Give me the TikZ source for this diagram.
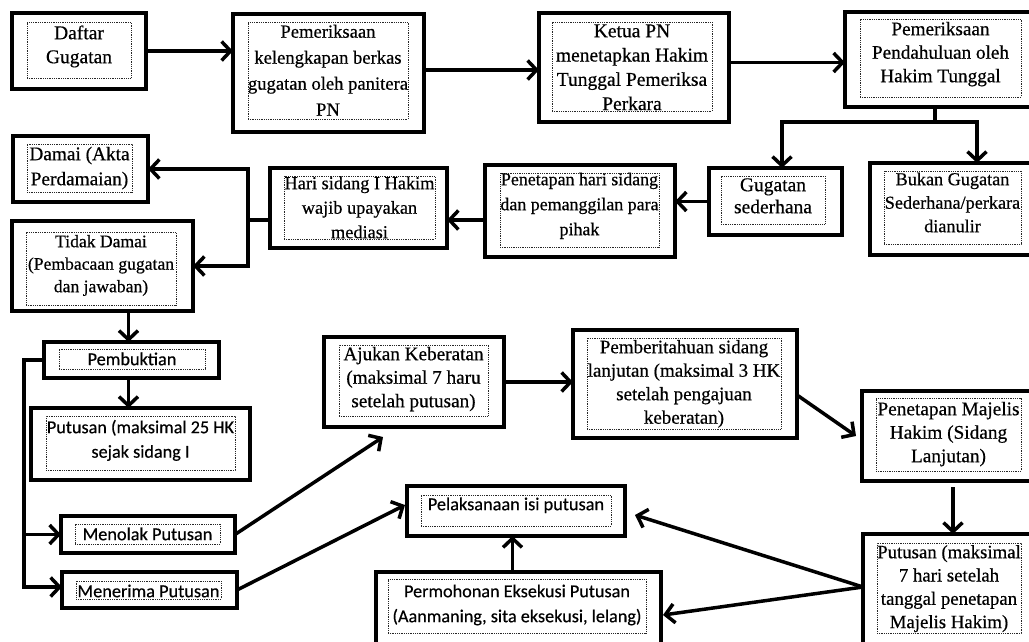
\documentclass[tikz,border=0pt]{standalone}
\usepackage{fontspec}
\setmainfont{Liberation Serif}
\newfontfamily\serifface[FakeBold=0.5]{Liberation Serif}
\newfontfamily\sansface[FakeBold=0.4]{Carlito}
\usetikzlibrary{arrows.meta,fit,calc}

% font helpers: size and line pitch
\newcommand\fserif[2]{\serifface\fontsize{#1}{#2}\selectfont}
\newcommand\fsans[2]{\sansface\fontsize{#1}{#2}\selectfont}

% a process step: thick frame, dotted text frame, centred text
% #1 name, #2/#3 frame corners, #4/#5 text-frame corners,
% #6 baseline of first line, #7 font, #8 text
\newcommand\procbox[8]{%
  \node[outerbox, fit={#2 #3}] (#1) {};
  \node[innerbox, fit={#4 #5}] (#1-in) {};
  \node[boxtext, font=#7] (#1-txt) at (#1-in.center |- 0,#6) {\rule{0pt}{14pt}#8};
}

\tikzset{
  outerbox/.style={draw=black, line width=3.6pt, inner sep=0pt, outer sep=0pt},
  innerbox/.style={draw=black!85, densely dotted, line width=0.8pt, inner sep=0pt, outer sep=0pt},
  boxtext/.style={inner sep=0pt, align=center, anchor=north, yshift=14pt, text=black},
  conn/.style={line width=3.5pt, draw=black},
  arr/.style={conn, -{Straight Barb[length=9pt, width=19pt]}},
}

\begin{document}
\begin{tikzpicture}[x=1pt, y=-1pt]
\useasboundingbox (0,0) rectangle (1029,641);
\fill[white] (0,0) rectangle (1029,641);
\clip (0,0) rectangle (1029,641);

% ---- top row
\procbox{daftar}{(12,13)}{(146,89)}{(27,22)}{(131,78)}{39}{\fserif{19.5}{24}}{Daftar\\Gugatan}
\procbox{periksa}{(233,14)}{(424,132)}{(248,22)}{(408,119)}{37.5}{\fserif{18.6}{26}}{Pemeriksaan\\kelengkapan berkas\\gugatan oleh panitera\\PN}
\procbox{ketua}{(539,13)}{(729,122)}{(552,22)}{(712,111)}{37}{\fserif{19.5}{24.3}}{Ketua PN\\menetapkan Hakim\\Tunggal Pemeriksa\\Perkara}
\procbox{pendahuluan}{(845,12)}{(1036,107)}{(860,19)}{(1021,97)}{35}{\fserif{19.2}{23.5}}{Pemeriksaan\\Pendahuluan oleh\\Hakim Tunggal}

% ---- second row
\procbox{sederhana}{(709,168)}{(842,235)}{(721,176)}{(825,224)}{191}{\fserif{19.5}{22}}{Gugatan\\sederhana}
\procbox{bukan}{(870,163)}{(1036,255)}{(884,171)}{(1021,244)}{185}{\fserif{18.2}{23.5}}{Bukan Gugatan\\Sederhana/perkara\\dianulir}
\procbox{penetapan}{(485,165)}{(675,257)}{(500,173)}{(659,247)}{185}{\fserif{17.9}{25}}{Penetapan hari sidang\\dan pemanggilan para\\pihak}
\procbox{harisidang}{(270,168)}{(447,248)}{(284,176)}{(435,239)}{189}{\fserif{18.3}{24.5}}{Hari sidang I Hakim\\wajib upayakan\\mediasi}
\procbox{damai}{(13,136)}{(148,202)}{(27,144)}{(132,192)}{160}{\fserif{19.3}{25}}{Damai (Akta\\Perdamaian)}
\procbox{tidakdamai}{(12,221)}{(193,311)}{(26,232)}{(176,305)}{247}{\fserif{17.6}{22.5}}{Tidak Damai\\(Pembacaan gugatan\\dan jawaban)}

% ---- left column
\procbox{pembuktian}{(44,342)}{(219,378)}{(59,349)}{(205,369)}{365}{\fsans{18.3}{25}}{Pembuktian}
\procbox{putusan25}{(31,408)}{(250,480)}{(46,416)}{(235,470)}{433}{\fsans{18.2}{24.5}}{Putusan (maksimal 25 HK\\sejak sidang I}
\procbox{menolak}{(61,516)}{(235,553)}{(75,524)}{(220,544)}{540}{\fsans{18.3}{25}}{Menolak Putusan}
\procbox{menerima}{(62,572)}{(237,608)}{(76,581)}{(221,599)}{597}{\fsans{18.3}{25}}{Menerima Putusan}

% ---- objection path and execution
\procbox{ajukan}{(324,337)}{(504,427)}{(339,345)}{(488,416)}{360}{\fserif{19.2}{23.5}}{Ajukan Keberatan\\(maksimal 7 haru\\setelah putusan)}
\procbox{pemberitahuan}{(573,330)}{(797,438)}{(587,338)}{(781,429)}{353}{\fserif{19}{23.5}}{Pemberitahuan sidang\\lanjutan (maksimal 3 HK\\setelah pengajuan\\keberatan)}
\procbox{majelis}{(862,391)}{(1036,481)}{(876,398)}{(1021,471)}{415}{\fserif{19.3}{23.5}}{Penetapan Majelis\\Hakim (Sidang\\Lanjutan)}
\procbox{putusan7}{(863,534)}{(1036,650)}{(877,543)}{(1021,633)}{558}{\fserif{18.8}{23.3}}{Putusan (maksimal\\7 hari setelah\\tanggal penetapan\\Majelis Hakim)}
\procbox{pelaksanaan}{(407,486)}{(625,536)}{(421,495)}{(611,526)}{510}{\fsans{18.3}{25}}{Pelaksanaan isi putusan}
\procbox{permohonan}{(376,572)}{(661,650)}{(388,579)}{(646,633)}{597}{\fsans{18.2}{25}}{Permohonan Eksekusi Putusan\\(Aanmaning, sita eksekusi, lelang)}

% ---- connectors, top row
\draw[arr] (daftar.east) -- (daftar.east -| periksa.west);
\draw[arr] ([yshift=3pt]periksa.east) -- ([yshift=3pt]periksa.east -| ketua.west);
\draw[arr] ([yshift=5pt]ketua.east) -- ([yshift=5pt]ketua.east -| pendahuluan.west);

% split below the preliminary examination
\coordinate (jn) at (935,122);
\coordinate (jl) at (782,122);
\coordinate (jr) at (977,122);
\draw[conn] (jn |- pendahuluan.south) -- (jn);
\draw[arr] (jn) -- (jl) -- (jl |- sederhana.north);
\draw[arr] (jn) -- (jr) -- (jr |- bukan.north);

% second row, right to left
\draw[arr] (sederhana.west) -- (sederhana.west -| penetapan.east);
\draw[arr] ([yshift=-9pt]penetapan.west) -- ([yshift=-9pt]penetapan.west -| harisidang.east);
\coordinate (mj) at (248,220);
\draw[conn] ([yshift=-12pt]harisidang.west) -- (mj);
\draw[arr] (mj) |- (damai.east);
\draw[arr] (mj) |- (tidakdamai.east);

% left column
\draw[arr] ([xshift=-3pt]pembuktian.north |- tidakdamai.south) -- ([xshift=-3pt]pembuktian.north);
\draw[arr] ([xshift=-3pt]pembuktian.south) -- ([xshift=-3pt]pembuktian.south |- putusan25.north);
\coordinate (lb) at (24,360);
\draw[arr] (pembuktian.west) -- (lb) |- ([yshift=3pt]menerima.west);
\draw[arr] (lb |- menolak.west) -- (menolak.west);

% decisions
\draw[arr] (menolak.east) -- ([xshift=-31pt,yshift=-10pt]ajukan.south);
\draw[arr] (menerima.east) -- ([xshift=-2pt,yshift=6pt]pelaksanaan.west);

% objection path
\draw[arr] (ajukan.east) -- (ajukan.east -| pemberitahuan.west);
\draw[arr] ([yshift=-11pt]pemberitahuan.east) -- ([xshift=-6pt]majelis.west);
\draw[arr] ([xshift=4pt,yshift=-6pt]majelis.south) -- ([xshift=4pt]majelis.south |- putusan7.north);
\draw[arr] ([yshift=5pt]putusan7.west) -- ([xshift=10pt,yshift=-4pt]pelaksanaan.east);
\draw[arr] ([yshift=5pt]putusan7.west) -- ([xshift=2pt,yshift=-4pt]permohonan.east);
\draw[arr] ([xshift=-6pt]permohonan.north) -- ([xshift=-6pt]permohonan.north |- pelaksanaan.south);
\end{tikzpicture}
\end{document}
